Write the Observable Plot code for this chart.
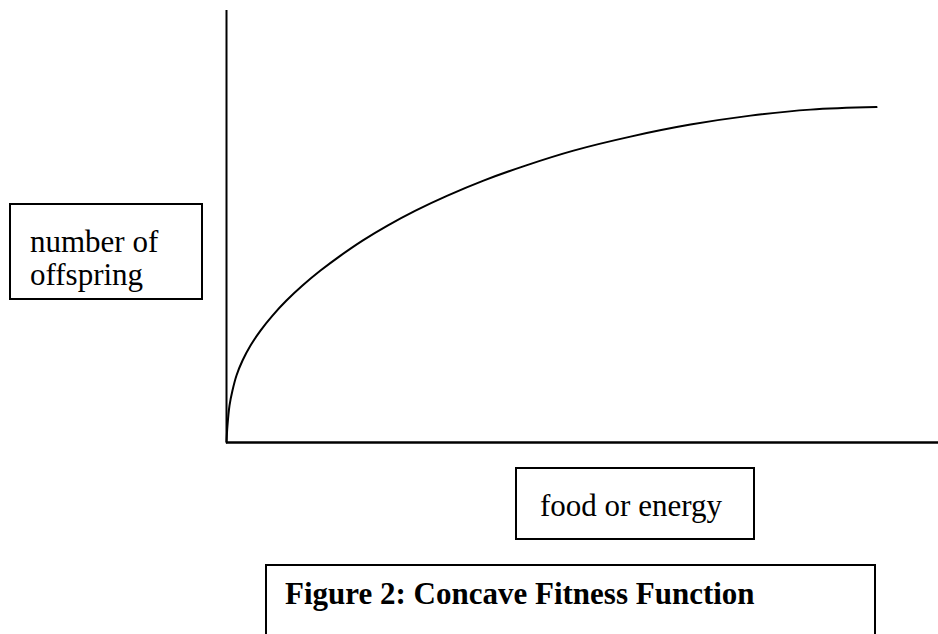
<!DOCTYPE html>
<html>
<head>
<meta charset="utf-8">
<script src="https://cdn.jsdelivr.net/npm/d3@7"></script>
<script src="https://cdn.jsdelivr.net/npm/@observablehq/plot@0.6"></script>
<style>
  html, body { margin: 0; padding: 0; background: #fff; }
  #wrap { position: relative; width: 938px; height: 634px; overflow: hidden; font-family: "Liberation Serif", "Times New Roman", serif; color: #000; }
  #wrap svg { position: absolute; left: 0; top: 0; }
  .box { position: absolute; border: 2px solid #000; box-sizing: border-box; font-size: 31px; white-space: nowrap; background: #fff; }
  .box span { display: block; height: 33px; line-height: 33px; }
</style>
</head>
<body>
<div id="wrap"></div>
<script>
// Concave fitness curve: food or energy (x) vs number of offspring (y)
const food      = [0, 0.015, 0.046, 0.092, 0.154, 0.247, 0.37, 0.524, 0.709, 0.924, 1.171, 1.448, 1.757, 2.096, 2.481, 2.912, 3.405, 3.96, 4.607, 5.347, 6.225, 7.149, 8.074, 8.998, 10.015];
const offspring = [0, 0.507, 1.104, 1.552, 2.0, 2.448, 2.896, 3.343, 3.791, 4.239, 4.687, 5.134, 5.582, 6.03, 6.478, 6.925, 7.373, 7.821, 8.269, 8.716, 9.134, 9.493, 9.761, 9.94, 10.015];

const yLabelLines = ["number of", "offspring"];
const xLabel = "food or energy";
const captionText = "Figure 2: Concave Fitness Function";

const data = food.map((x, i) => ({x, y: offspring[i]}));

const chart = Plot.plot({
  width: 938,
  height: 634,
  marginLeft: 226,
  marginRight: 0,
  marginTop: 10,
  marginBottom: 192,
  x: {domain: [0, 10.97], axis: null},
  y: {domain: [0, 12.9], axis: null},
  marks: [
    Plot.ruleX([0], {stroke: "#000", strokeWidth: 2}),
    Plot.ruleY([0], {stroke: "#000", strokeWidth: 2.5}),
    Plot.line(data, {x: "x", y: "y", stroke: "#000", strokeWidth: 2, curve: "catmull-rom"})
  ]
});

const wrap = document.getElementById("wrap");
wrap.appendChild(chart);

function addBox(left, top, width, height, padL, padT, lines, extra) {
  const d = document.createElement("div");
  d.className = "box";
  d.style.left = left + "px";
  d.style.top = top + "px";
  d.style.width = width + "px";
  d.style.height = height + "px";
  d.style.paddingLeft = padL + "px";
  d.style.paddingTop = padT + "px";
  if (extra) Object.assign(d.style, extra);
  for (const t of lines) {
    const s = document.createElement("span");
    s.textContent = t;
    d.appendChild(s);
  }
  wrap.appendChild(d);
}

addBox(9, 203, 194, 97, 19, 20, yLabelLines);
addBox(515, 467, 240, 73, 23, 20, [xLabel]);
addBox(265, 564, 611, 90, 18, 11, [captionText], {fontWeight: "bold"});
</script>
</body>
</html>
